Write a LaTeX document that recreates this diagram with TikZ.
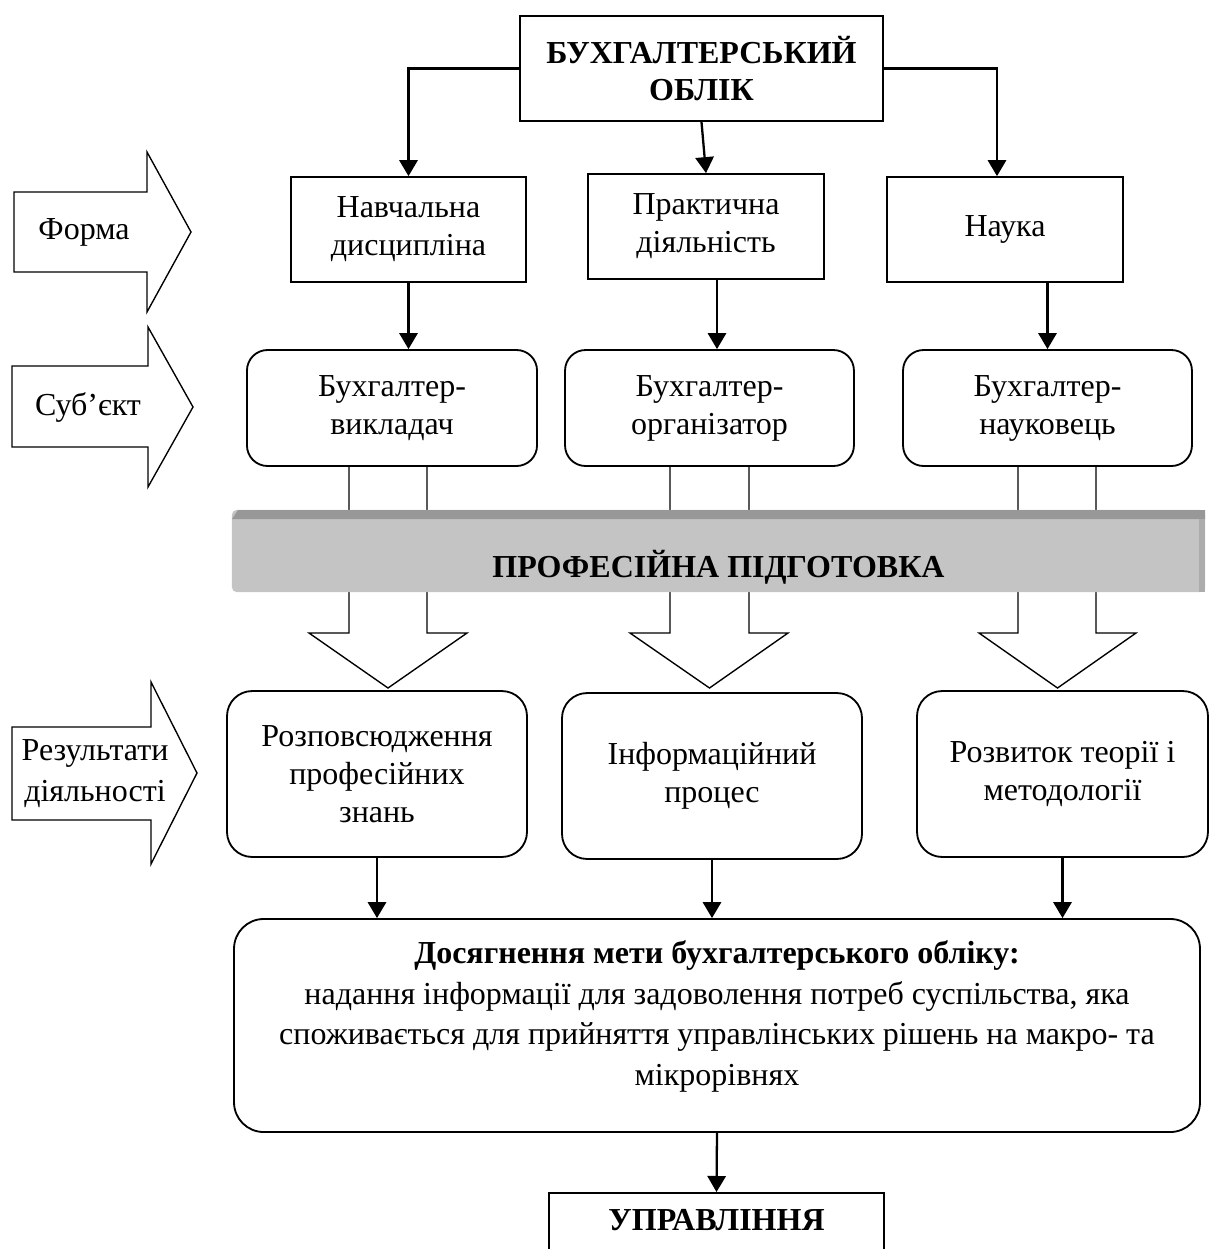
\documentclass[tikz,border=0pt]{standalone}
\usepackage{fontspec}
\setmainfont{Liberation Serif}
\usepackage{tikz}
\usetikzlibrary{arrows.meta,shapes,calc}
\usetikzlibrary{positioning,fit}
\definecolor{bandface}{RGB}{196,196,196}
\definecolor{bandedge}{RGB}{152,152,152}
\newcommand{\bodyfont}{\fontsize{14pt}{16.6pt}\selectfont}
\tikzstyle{arrow}=[draw,-{Triangle[length=7pt,width=8pt]},line width=1pt]
\tikzstyle{block} =
  [rectangle, draw, thick, align=center, minimum height=45.9pt]
\tikzstyle{rblock} =
  [rectangle, draw, thick, align=center, rounded corners=9pt]
\tikzstyle{hollow}=[draw,semithick]
\tikzstyle{sidearrow}=[draw,semithick]
\tikzstyle{band} =
  [rectangle, fill=bandface, rounded corners=2pt, font=\bodyfont\bfseries,
   minimum width=425.7pt, minimum height=35.9pt,
   text height=23.6pt, text depth=0pt]

\begin{document}
\begin{tikzpicture}[x=0.4375pt, y=-0.4375pt, font=\bodyfont]
  \useasboundingbox (0,0) rectangle (1209,1249);

  % top
  \node [block, minimum width=158.8pt, font=\bodyfont\bfseries] (t) at (701.5,68.5)
    {БУХГАЛТЕРСЬКИЙ\\ОБЛІК};

  % form
  \node [block, minimum width=102.8pt] (f1) at (408.5,229.5) {Навчальна\\дисципліна};
  \node [block, minimum width=103.3pt] (f2) at (706,226.5) {Практична\\діяльність};
  \node [block, minimum width=103.3pt] (f3) at (1005,229.5) {Наука};

  \draw [arrow] (t.west) -| (f1.north);
  \draw [arrow] (t.south) to (f2.north);
  \draw [arrow] (t.east) -| ([xshift=-3.5pt]f3.north);

  % subject
  \node [rblock, minimum width=126.9pt, minimum height=50.75pt] (s1) at (392,408)
    {Бухгалтер-\\викладач};
  \node [rblock, minimum width=126.4pt, minimum height=50.75pt] (s2) at (709.5,408)
    {Бухгалтер-\\організатор};
  \node [rblock, minimum width=126.4pt, minimum height=50.75pt] (s3) at (1047.5,408)
    {Бухгалтер-\\науковець};

  \coordinate (f2b) at ($(f2.south)+(11,0)$);
  \draw [arrow] (f1.south) to (f1.south |- s1.north);
  \draw [arrow] (f2b) to (f2b |- s2.north);
  \draw [arrow] (s3.north |- f3.south) to (s3.north);

  % wide arrows through the band
  \draw [hollow] (349,466) -- (349,633) -- (309,633) -- (388,688)
    -- (467,633) -- (427,633) -- (427,466);
  \draw [hollow] (670,466) -- (670,633) -- (630,633) -- (709.5,688)
    -- (788,633) -- (749,633) -- (749,466);
  \draw [hollow] (1018,466) -- (1018,633) -- (979,633) -- (1057.5,688)
    -- (1136,633) -- (1096,633) -- (1096,466);

  \node [band] (pp) at (718.5,551) {ПРОФЕСІЙНА ПІДГОТОВКА};
  \fill [bandedge] (238,510) -- (1205,510) -- (1205,519) -- (232,519) -- cycle;
  \fill [bandedge!55!bandface] (1199,519) rectangle (1205,592);

  % results
  \node [rblock, rounded corners=11pt, minimum width=131.25pt, minimum height=72.6pt]
    (r1) at (377,774) {Розповсюдження\\професійних\\знань};
  \node [rblock, rounded corners=11pt, minimum width=131.25pt, minimum height=72.6pt]
    (r2) at (712,776) {Інформаційний\\процес};
  \node [rblock, rounded corners=11pt, minimum width=127.3pt, minimum height=72.6pt]
    (r3) at (1062.5,774) {Розвиток теорії і\\методології};

  % goal
  \node [rblock, rounded corners=13pt, minimum width=422.6pt, minimum height=93.2pt]
    (g) at (717,1025.5) {};
  \node [align=center, font=\fontsize{14pt}{17.7pt}\selectfont] (gt) at (717,1016.5)
    {\textbf{Досягнення мети бухгалтерського обліку:}\\
     надання інформації для задоволення потреб суспільства, яка\\
     споживається для прийняття управлінських рішень на макро- та\\
     мікрорівнях};

  \draw [arrow] (r1.south) to (r1.south |- g.north);
  \draw [arrow] (r2.south) to (r2.south |- g.north);
  \draw [arrow] (r3.south) to (r3.south |- g.north);

  \node [block, anchor=north, minimum width=146.6pt, minimum height=0pt,
    inner ysep=0pt, text height=16.6pt, text depth=13pt, font=\bodyfont\bfseries]
    (u) at (716.5,1192) {УПРАВЛІННЯ};
  \draw [arrow] (g.south) to (u.north);

  % side arrows
  \draw [sidearrow] (14,192) -- (147,192) -- (147,152) -- (191,232)
    -- (147,312) -- (147,272) -- (14,272) -- cycle;
  \node (forma) at (84,232) {Форма};
  \draw [sidearrow] (12,366) -- (148,366) -- (148,327) -- (193,407)
    -- (148,487) -- (148,447) -- (12,447) -- cycle;
  \node (subj) at (88,407) {Суб’єкт};
  \draw [sidearrow] (12,727) -- (151,727) -- (151,682) -- (197,773)
    -- (151,864) -- (151,820) -- (12,820) -- cycle;
  \node [align=center, font=\fontsize{14pt}{18pt}\selectfont] (res) at (95,774)
    {Результати\\діяльності};
\end{tikzpicture}
\end{document}
